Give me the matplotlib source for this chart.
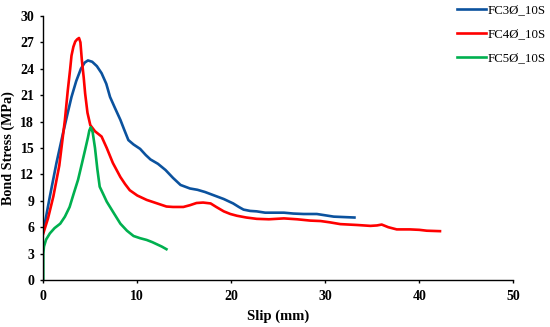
import matplotlib
matplotlib.use("Agg")
import matplotlib.pyplot as plt

# FC3Ø_10S
fc3_x = [0.0, 0.7, 1.4, 2.1, 2.6, 3.0, 3.5, 4.0, 4.4, 4.75, 5.2, 5.7, 6.2, 6.7, 7.1, 7.6, 8.2, 8.6, 9.05, 9.6, 10.3, 10.9, 11.4, 12.2, 13.0, 13.8, 14.6, 15.6, 16.4, 17.2, 18.2, 19.2, 20.2, 20.8, 21.3, 22.0, 22.7, 23.6, 24.5, 25.6, 26.6, 27.7, 29.1, 30.0, 30.9, 32.0, 33.1]
fc3_y = [5.5, 9.5, 13.3, 16.7, 19.0, 20.8, 22.6, 24.0, 24.7, 24.95, 24.8, 24.3, 23.5, 22.3, 20.8, 19.6, 18.2, 17.1, 15.9, 15.4, 14.9, 14.2, 13.7, 13.2, 12.5, 11.6, 10.8, 10.4, 10.25, 10.0, 9.6, 9.2, 8.7, 8.3, 8.0, 7.85, 7.8, 7.65, 7.65, 7.65, 7.55, 7.5, 7.5, 7.35, 7.2, 7.15, 7.1]

# FC4Ø_10S
fc4_x = [0.0, 0.5, 1.07, 1.7, 2.3, 2.6, 2.85, 3.0, 3.2, 3.4, 3.6, 3.8, 3.95, 4.1, 4.3, 4.45, 4.7, 5.0, 5.5, 6.2, 6.75, 7.4, 8.2, 8.7, 9.2, 10.0, 11.0, 12.4, 13.1, 13.8, 14.9, 15.6, 16.3, 17.0, 17.8, 18.4, 19.2, 19.9, 20.6, 21.6, 22.7, 24.0, 25.6, 27.0, 28.4, 29.5, 30.5, 31.6, 33.4, 34.8, 35.5, 36.0, 36.7, 37.6, 39.0, 40.0, 40.8, 42.2]
fc4_y = [5.3, 7.0, 9.5, 13.0, 18.2, 21.5, 23.9, 25.5, 26.5, 27.1, 27.35, 27.5, 27.0, 25.0, 23.0, 21.2, 19.0, 17.6, 16.9, 16.3, 15.0, 13.3, 11.7, 10.9, 10.2, 9.6, 9.1, 8.6, 8.35, 8.3, 8.3, 8.5, 8.75, 8.8, 8.7, 8.3, 7.8, 7.5, 7.3, 7.1, 6.95, 6.9, 7.0, 6.9, 6.75, 6.7, 6.55, 6.35, 6.25, 6.15, 6.2, 6.3, 6.0, 5.75, 5.75, 5.7, 5.6, 5.55]

# FC5Ø_10S
fc5_x = [0.0, 0.0, 0.07, 0.3, 0.7, 1.2, 1.8, 2.3, 2.8, 3.2, 3.7, 4.1, 4.45, 4.75, 4.9, 5.05, 5.25, 5.5, 5.75, 6.0, 6.4, 6.75, 7.5, 8.2, 8.9, 9.6, 10.3, 11.0, 11.6, 12.1, 12.6, 13.1]
fc5_y = [0.0, 3.0, 3.8, 4.6, 5.3, 5.9, 6.4, 7.2, 8.3, 9.7, 11.4, 13.2, 14.8, 16.2, 17.0, 17.35, 16.8, 15.0, 12.6, 10.6, 9.7, 8.9, 7.6, 6.4, 5.6, 5.0, 4.75, 4.55, 4.3, 4.05, 3.8, 3.5]

x_ticks = [0, 10, 20, 30, 40, 50]
y_ticks = [0, 3, 6, 9, 12, 15, 18, 21, 24, 27, 30]

serif = ["Liberation Serif", "DejaVu Serif"]

fig = plt.figure(figsize=(5.5, 3.27), dpi=100)
ax = fig.add_axes([43.3 / 550, 1 - 280 / 327, (513.3 - 43.3) / 550, (280 - 16) / 327])

ax.plot(fc3_x, fc3_y, color="#0B529E", lw=1.9, label="FC3Ø_10S", solid_joinstyle="round")
ax.plot(fc4_x, fc4_y, color="#FF0000", lw=1.9, label="FC4Ø_10S", solid_joinstyle="round")
ax.plot(fc5_x, fc5_y, color="#00B04F", lw=1.9, label="FC5Ø_10S", solid_joinstyle="round")

ax.set_xlim(0, 50)
ax.set_ylim(0, 30)
ax.set_xticks(x_ticks)
ax.set_yticks(y_ticks)
for s in ["top", "right"]:
    ax.spines[s].set_visible(False)
for s in ["left", "bottom"]:
    ax.spines[s].set_linewidth(1.0)
ax.tick_params(direction="out", length=2.5, width=1.0)
ax.tick_params(axis="y", pad=4)
ax.tick_params(axis="x", pad=4.5)
for lab in ax.get_xticklabels() + ax.get_yticklabels():
    lab.set_fontfamily(serif)
    lab.set_fontweight("bold")
    lab.set_fontsize(10)

ax.set_xlabel("Slip (mm)", fontfamily=serif, fontweight="bold", fontsize=10.5, labelpad=5)
ax.set_ylabel("Bond Stress (MPa)", fontfamily=serif, fontweight="bold", fontsize=10.2, labelpad=4)

leg = fig.legend(loc="upper left", bbox_to_anchor=(452 / 550, 1.003), frameon=False,
                 prop={"family": serif, "size": 9.3}, handlelength=2.25,
                 handletextpad=0.1, labelspacing=0.92, borderaxespad=0)

fig.savefig("out.png", dpi=100)
